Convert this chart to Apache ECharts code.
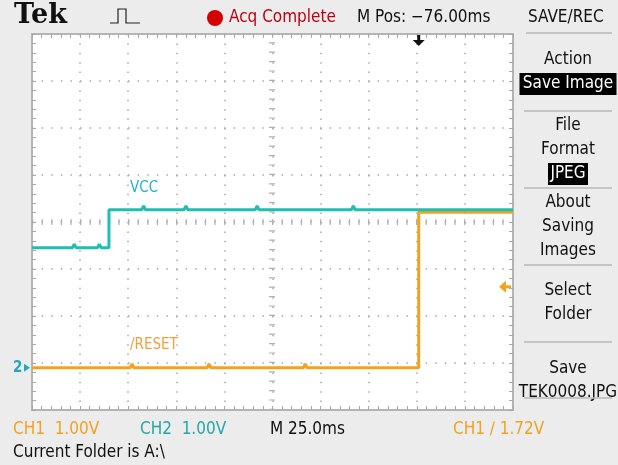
<!DOCTYPE html>
<html>
<head>
<meta charset="utf-8">
<script src="https://cdn.jsdelivr.net/npm/echarts@6/dist/echarts.min.js"></script>
<style>
  html, body { margin: 0; padding: 0; background: #ececec; }
  #main { width: 618px; height: 465px; }
</style>
</head>
<body>
<div id="main"></div>
<script>
// scope settings
const mPos = -76;          // ms, horizontal position (screen center)
const msPerDiv = 25;       // M 25.0ms
const voltsPerDiv = 1.0;   // CH1 and CH2 1.00V
const groundDiv = -3.1;    // both ground markers, divisions from center
const trigLevel = 1.72;    // CH1 rising edge trigger

// CH2 - VCC (ms from trigger, volts)
const vccTime = [-201, -180, -179, -178, -167, -166, -165, -161, -161, -144, -143, -142, -122, -121, -120, -85, -84, -83, -35, -34, -33, 49];
const vccVolt = [2.55, 2.55, 2.63, 2.55, 2.55, 2.63, 2.55, 2.55, 3.36, 3.36, 3.44, 3.36, 3.36, 3.44, 3.36, 3.36, 3.44, 3.36, 3.36, 3.44, 3.36, 3.36];

// CH1 - /RESET
const rstTime = [-201, -150, -149, -148, -110, -109, -108, -60, -59, -58, 0, 0, 49];
const rstVolt = [0, 0, 0.08, 0, 0, 0.08, 0, 0, 0.08, 0, 0, 3.31, 3.31];

const menuItems = [
  { lines: ['Action'], inv: 'Save Image' },
  { lines: ['File', 'Format'], inv: 'JPEG' },
  { lines: ['About', 'Saving', 'Images'] },
  { lines: ['Select', 'Folder'] },
  { lines: ['Save', 'TEK0008.JPG'] }
];

const CYAN = '#20bdb4';
const ORANGE = '#f2a21e';
const GRIDC = '#a8a8a8';
const FONT = '"DejaVu Sans Condensed", "Liberation Sans Narrow", sans-serif';

function toDiv(t, v) {
  return [(t - mPos) / msPerDiv, v / voltsPerDiv + groundDiv];
}
const vccData = vccTime.map((t, i) => toDiv(t, vccVolt[i]));
const rstData = rstTime.map((t, i) => toDiv(t, rstVolt[i]));

const chart = echarts.init(document.getElementById('main'));

function borderAxis(pos, extra) {
  const horiz = pos === 'top' || pos === 'bottom';
  return Object.assign({
    type: 'value', min: horiz ? -5 : -4, max: horiz ? 5 : 4, interval: 1,
    position: pos,
    axisLine: { show: true, onZero: false, lineStyle: { color: '#b4b4b4', width: 2 } },
    axisTick: { show: true, inside: true, length: 4, lineStyle: { color: GRIDC } },
    minorTick: { show: true, splitNumber: 5, length: 4, lineStyle: { color: GRIDC } },
    axisLabel: { show: false },
    splitLine: { show: false }
  }, extra || {});
}

function centerAxis(pos, off, gap) {
  return borderAxis(pos, {
    offset: off,
    axisTick: { show: false }, minorTick: { show: false },
    axisLine: { show: true, onZero: false, lineStyle: { color: '#b0b0b0', width: 6, cap: 'butt', type: [1.2, gap], dashOffset: 0 } }
  });
}

const option = {
  backgroundColor: '#ececec',
  animation: false,
  grid: {
    left: 32, top: 34, width: 481, height: 376,
    show: true, backgroundColor: '#ffffff',
    borderColor: '#b4b4b4', borderWidth: 2
  },
  xAxis: [
    borderAxis('bottom', {
      splitLine: { show: true, lineStyle: { color: GRIDC, width: 1.5, cap: 'butt', type: [1.5, 7.9] } }
    }),
    borderAxis('top'),
    centerAxis('bottom', -188, 8.4)
  ],
  yAxis: [
    borderAxis('left', {
      splitLine: { show: true, lineStyle: { color: GRIDC, width: 1.5, cap: 'butt', type: [1.5, 8.1] } }
    }),
    borderAxis('right'),
    centerAxis('left', -240, 8.2)
  ],
  series: [
    {
      name: '/RESET', type: 'line', data: rstData, symbol: 'none',
      xAxisIndex: 0, yAxisIndex: 0,
      lineStyle: { color: ORANGE, width: 3 }, z: 3
    },
    {
      name: 'VCC', type: 'line', data: vccData, symbol: 'none',
      xAxisIndex: 0, yAxisIndex: 0,
      lineStyle: { color: CYAN, width: 3 }, z: 4
    }
  ]
};
chart.setOption(option);

function txt(x, y, text, color, size, extra) {
  return {
    type: 'text', x: x, y: y, z: 20,
    style: Object.assign({
      text: text, fill: color, font: (size || 17) + 'px ' + FONT,
      textAlign: 'left', textVerticalAlign: 'middle'
    }, extra || {})
  };
}

const g = [];
// top bar
g.push(txt(14, 16, 'Tek', '#111', 27, { font: 'bold 27px "DejaVu Serif", serif' }));
g.push({ type: 'polyline', z: 20, shape: { points: [[110, 23], [118, 23], [118, 9], [126, 9], [126, 23], [140, 23]] },
  style: { stroke: '#222', lineWidth: 1.2, fill: null } });
g.push({ type: 'circle', z: 20, shape: { cx: 215, cy: 18, r: 8 }, style: { fill: '#d40000' } });
g.push(txt(229, 18, 'Acq Complete', '#c00010', 17));
g.push(txt(357, 18, 'M Pos: \u221276.00ms', '#111', 17));
g.push(txt(528, 18, 'SAVE/REC', '#111', 17));
g.push({ type: 'line', z: 20, shape: { x1: 526, y1: 33, x2: 612, y2: 33 }, style: { stroke: '#b8b8b8', lineWidth: 1.5 } });

// right menu
let y = 60;
const sepY = [111, 188, 265, 342, 398];
menuItems.forEach((it, k) => {
  it.lines.forEach(s => {
    g.push(txt(568, y, s, '#111', 17, { textAlign: 'center' }));
    y += 24;
  });
  if (it.inv) {
    const w = it.inv.length > 5 ? 97 : 40;
    g.push({ type: 'rect', z: 19, shape: { x: 568 - w / 2, y: y - 11, width: w, height: 22 }, style: { fill: '#000' } });
    g.push(txt(568, y, it.inv, '#fff', 17, { textAlign: 'center' }));
    y += 24;
  }
  g.push({ type: 'line', z: 20, shape: { x1: 524, y1: sepY[k], x2: 612, y2: sepY[k] }, style: { stroke: '#b8b8b8', lineWidth: 1.5 } });
  y = sepY[k] + 15;
  if (k === 2) y = sepY[k] + 26;
  if (k === 3) y = sepY[k] + 27;
});

// bottom readouts
g.push(txt(13, 430, 'CH1  1.00V', ORANGE, 17));
g.push(txt(140, 430, 'CH2  1.00V', '#22a8a8', 17));
g.push(txt(270, 430, 'M 25.0ms', '#111', 17));
g.push(txt(453, 430, 'CH1 \u2215 1.72V', ORANGE, 17));
g.push(txt(13, 453, 'Current Folder is A:\\', '#111', 17));

// trace labels
g.push(txt(130, 188, 'VCC', '#2aaed0', 15));
g.push(txt(130, 345, '/RESET', '#f0a040', 15));

// markers placed through the axes
const gnd = chart.convertToPixel({ xAxisIndex: 0, yAxisIndex: 0 }, [-5, groundDiv]);
g.push(txt(gnd[0] - 19, gnd[1], '2', '#22a8c0', 15, { font: 'bold 15px ' + FONT }));
g.push({ type: 'polygon', z: 20, shape: { points: [[gnd[0] - 8, gnd[1] - 4], [gnd[0] - 2, gnd[1]], [gnd[0] - 8, gnd[1] + 4]] }, style: { fill: '#22a8c0' } });

const trg = chart.convertToPixel({ xAxisIndex: 0, yAxisIndex: 0 }, [5, trigLevel / voltsPerDiv + groundDiv]);
g.push({ type: 'polygon', z: 20, shape: { points: [[trg[0] - 14, trg[1]], [trg[0] - 7, trg[1] - 6], [trg[0] - 7, trg[1] + 6]] }, style: { fill: ORANGE } });
g.push({ type: 'rect', z: 20, shape: { x: trg[0] - 8, y: trg[1] - 1.5, width: 6, height: 3 }, style: { fill: ORANGE } });

const tpos = chart.convertToPixel({ xAxisIndex: 0, yAxisIndex: 0 }, [(0 - mPos) / msPerDiv, 4]);
g.push({ type: 'rect', z: 20, shape: { x: tpos[0] - 1.5, y: tpos[1] + 1, width: 3, height: 6 }, style: { fill: '#111' } });
g.push({ type: 'polygon', z: 20, shape: { points: [[tpos[0] - 6, tpos[1] + 6], [tpos[0] + 6, tpos[1] + 6], [tpos[0], tpos[1] + 12]] }, style: { fill: '#111' } });

chart.setOption({ graphic: g });
</script>
</body>
</html>
